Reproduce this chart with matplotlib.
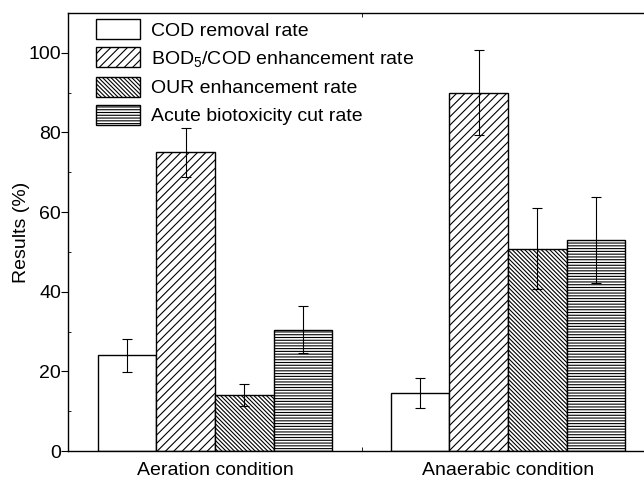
import numpy as np
import matplotlib
matplotlib.use("Agg")
import matplotlib.pyplot as plt
from matplotlib.ticker import MultipleLocator, FixedLocator

plt.rcParams['font.family'] = ['Liberation Sans', 'DejaVu Sans']
plt.rcParams['mathtext.default'] = 'regular'
plt.rcParams['hatch.linewidth'] = 0.8

conditions = ["Aeration condition", "Anaerabic condition"]
series = ["COD removal rate", "BOD$_5$/COD enhancement rate",
          "OUR enhancement rate", "Acute biotoxicity cut rate"]
cod_removal = [24.0, 14.5]
cod_err = [4.2, 3.8]
bod_enh = [75.0, 90.0]
bod_err = [6.1, 10.7]
our_enh = [14.0, 50.8]
our_err = [2.8, 10.1]
tox_cut = [30.5, 53.0]
tox_err = [6.0, 10.7]

values = [cod_removal, bod_enh, our_enh, tox_cut]
errors = [cod_err, bod_err, our_err, tox_err]
hatches = ['', '////', '\\' * 8, '-' * 6]

fs = 14

fig = plt.figure(figsize=(6.44, 4.80), dpi=100)
ax = fig.add_axes([0.1056, 0.0604, 0.8944, 0.9126])

x = np.arange(len(conditions))
w = 0.2
for i, (vals, errs, h, lab) in enumerate(zip(values, errors, hatches, series)):
    pos = x + (i - 1.5) * w
    ax.bar(pos, vals, width=w, facecolor='white', edgecolor='black',
           linewidth=1.0, hatch=h, label=lab)
    ax.errorbar(pos, vals, yerr=errs, fmt='none', ecolor='black',
                elinewidth=0.8, capsize=3.5, capthick=0.8)

ax.set_xlim(-0.502, 1.464)
ax.set_ylim(0, 110)
ax.set_xticks(x)
ax.set_xticklabels(conditions, fontsize=fs)
ax.tick_params(axis='x', length=0, pad=8)
ax.xaxis.set_minor_locator(FixedLocator([0.5]))
ax.tick_params(axis='x', which='minor', direction='in', length=3, top=True)

ax.yaxis.set_major_locator(MultipleLocator(20))
ax.yaxis.set_minor_locator(MultipleLocator(10))
ax.tick_params(axis='y', which='major', direction='out', length=5, labelsize=fs, pad=0)
ax.tick_params(axis='y', which='minor', direction='in', length=2)
ax.set_ylabel("Results (%)", fontsize=fs, labelpad=-1)

ax.spines['right'].set_visible(False)
for s in ['left', 'top', 'bottom']:
    ax.spines[s].set_linewidth(1.0)

ax.legend(loc='upper left', bbox_to_anchor=(0.0415, 0.995), frameon=False,
          fontsize=fs, handlelength=2.27, handleheight=1.2,
          handletextpad=0.57, labelspacing=0.4, borderaxespad=0.0,
          borderpad=0.2)

fig.savefig("out.png", dpi=100)
